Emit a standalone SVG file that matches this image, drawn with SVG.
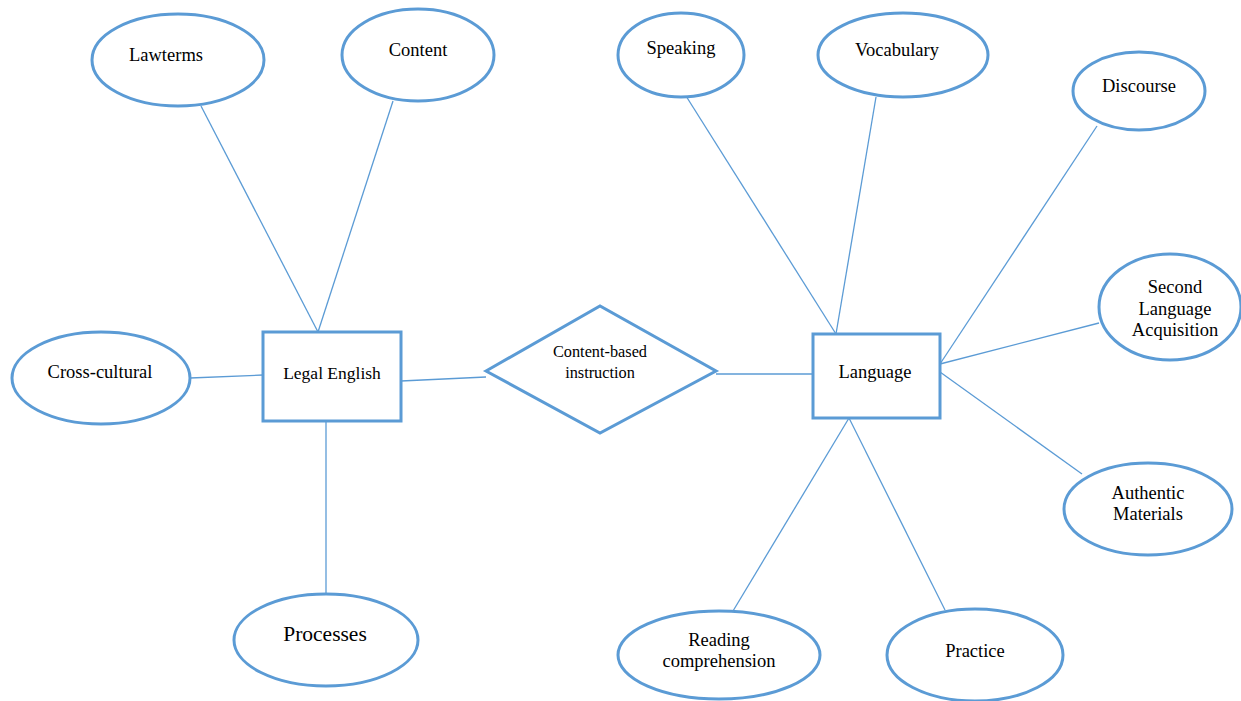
<svg xmlns="http://www.w3.org/2000/svg" width="1241" height="701" viewBox="0 0 1241 701">
<style>
.sh{fill:#ffffff;stroke:#5b9bd5;stroke-width:3}
.ln{stroke:#5b9bd5;stroke-width:1.3;fill:none}
text{font-family:'Liberation Serif','DejaVu Serif',serif;font-size:18.5px;fill:#000;text-anchor:middle}
</style>
<rect width="1241" height="701" fill="#ffffff"/>
<g id="connectors">
<line class="ln" x1="201" y1="106" x2="318" y2="332"/>
<line class="ln" x1="393" y1="101" x2="318" y2="332"/>
<line class="ln" x1="190" y1="378" x2="263" y2="375"/>
<line class="ln" x1="401" y1="381" x2="486" y2="377"/>
<line class="ln" x1="326" y1="421" x2="326" y2="594"/>
<line class="ln" x1="716" y1="374" x2="813" y2="374"/>
<line class="ln" x1="686" y1="96" x2="836" y2="334"/>
<line class="ln" x1="876" y1="97" x2="836" y2="334"/>
<line class="ln" x1="1097" y1="126" x2="940" y2="364"/>
<line class="ln" x1="1099" y1="323" x2="940" y2="364"/>
<line class="ln" x1="1082" y1="474" x2="940" y2="372"/>
<line class="ln" x1="733" y1="611" x2="849" y2="418"/>
<line class="ln" x1="945" y1="610" x2="849" y2="418"/>
</g>
<g id="lawterms"><ellipse class="sh" cx="178" cy="60" rx="86" ry="46"/><text x="166" y="61">Lawterms</text></g>
<g id="content"><ellipse class="sh" cx="418" cy="55" rx="76" ry="46"/><text x="418" y="56">Content</text></g>
<g id="speaking"><ellipse class="sh" cx="681" cy="55" rx="63" ry="42"/><text x="681" y="54">Speaking</text></g>
<g id="vocabulary"><ellipse class="sh" cx="903" cy="55" rx="85" ry="42"/><text x="897" y="56">Vocabulary</text></g>
<g id="discourse"><ellipse class="sh" cx="1139" cy="91" rx="66" ry="39"/><text x="1139" y="92">Discourse</text></g>
<g id="sla"><ellipse class="sh" cx="1170" cy="307" rx="71" ry="53"/><text x="1175" y="293">Second</text><text x="1175" y="315">Language</text><text x="1175" y="336">Acquisition</text></g>
<g id="authentic"><ellipse class="sh" cx="1148" cy="509" rx="84" ry="46"/><text x="1148" y="499">Authentic</text><text x="1148" y="520">Materials</text></g>
<g id="practice"><ellipse class="sh" cx="975" cy="655" rx="88" ry="46"/><text x="975" y="657">Practice</text></g>
<g id="reading"><ellipse class="sh" cx="719" cy="655" rx="101" ry="44"/><text x="719" y="646">Reading</text><text x="719" y="667">comprehension</text></g>
<g id="processes"><ellipse class="sh" cx="326" cy="640" rx="92" ry="46"/><text x="325" y="641" style="font-size:21.5px">Processes</text></g>
<g id="crosscultural"><ellipse class="sh" cx="101" cy="378" rx="89" ry="46"/><text x="100" y="378">Cross-cultural</text></g>
<g id="legalenglish"><rect class="sh" x="263" y="332" width="138" height="89"/><text x="332" y="379" style="font-size:17.5px">Legal English</text></g>
<g id="cbi"><polygon class="sh" points="486,371 600,306 716,371 600,433"/><text x="600" y="357" style="font-size:16.3px">Content-based</text><text x="600" y="378" style="font-size:16.3px">instruction</text></g>
<g id="language"><rect class="sh" x="813" y="334" width="127" height="84"/><text x="875" y="378">Language</text></g>
</svg>
